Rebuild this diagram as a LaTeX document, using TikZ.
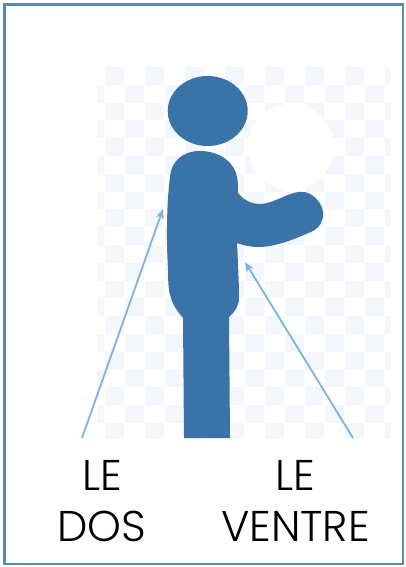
\documentclass[tikz,border=0pt]{standalone}
\usepackage{fontspec}
\usetikzlibrary{arrows.meta}
\setmainfont{Poppins Light}
\definecolor{figblue}{HTML}{3A73A8}
\definecolor{arrowblue}{HTML}{7DB3E2}
\definecolor{framecol}{HTML}{5A89B4}
\definecolor{checkcol}{HTML}{F3F6FB}

\begin{document}
\begin{tikzpicture}[x=1pt, y=-1pt, >={Stealth[length=10pt, width=8pt]},
    every node/.style={font=\fontsize{43}{51}\selectfont, align=center, inner sep=0pt},
    pointer/.style={->, arrowblue, line width=1.8pt}]
    \useasboundingbox (0,0) rectangle (405,567);
    \fill[white] (0,0) rectangle (405,567);

    % checkerboard
    \begin{scope}
        \clip (97,67) rectangle (390,438);
        \foreach \iy in {0,...,20} {
            \foreach \ix in {0,...,7} {
                \pgfmathsetmacro{\cx}{105+40*\ix-20*mod(\iy,2)}
                \pgfmathsetmacro{\cy}{67+17.8*\iy}
                \fill[checkcol] (\cx,\cy) rectangle ++(18.5,17.8);
            }
        }
    \end{scope}

    \fill[white] (291,147) ellipse (43 and 43);

    % head and body
    \fill[figblue] (207.7,111) ellipse (40 and 35);
    \fill[figblue] (200,151)
        .. controls (182,151) and (171,162) .. (170,177)
        .. controls (167,200) and (166,235) .. (168,270)
        .. controls (168,285) and (169,293) .. (171,298)
        .. controls (173,306) and (179,313) .. (183,318)
        -- (184,438) -- (230,438) -- (229,317)
        .. controls (235,312) and (239,306) .. (239,298)
        .. controls (239,285) and (238,262) .. (237,243)
        .. controls (245,246) and (252,247) .. (258,247)
        .. controls (277,247) and (297,238) .. (313,231)
        .. controls (320,227) and (324,220) .. (323,212)
        .. controls (322,204) and (316,197) .. (310,194)
        .. controls (303,190) and (296,192) .. (288,195)
        .. controls (278,199) and (268,204) .. (260,204)
        .. controls (250,204) and (243,199) .. (238,193)
        .. controls (238,187) and (238,182) .. (237,177)
        .. controls (235,163) and (220,151) .. (200,151) -- cycle;

    \coordinate (dosstart) at (82,438);
    \coordinate (dostip) at (163,209);
    \coordinate (ventrestart) at (353,438);
    \coordinate (ventretip) at (245,262);

    \draw[pointer] (dosstart) -- (dostip);
    \draw[pointer] (ventrestart) -- (ventretip);

    \node[anchor=base] (ledos) at (102,541) {LE\\DOS};
    \node[anchor=base] (leventre) at (295.5,541) {LE\\VENTRE};

    \draw[framecol, line width=2.5pt] (4.5,4.5) rectangle (403,564);
\end{tikzpicture}
\end{document}
